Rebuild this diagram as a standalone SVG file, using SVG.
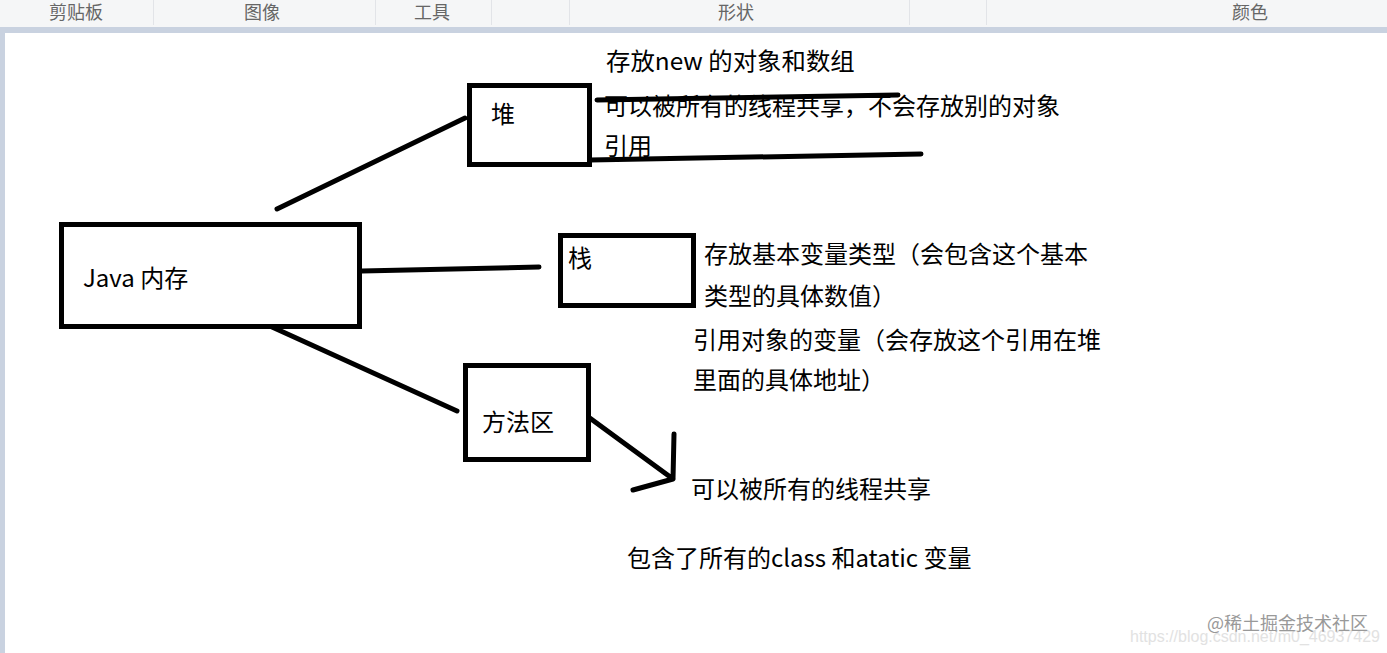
<svg xmlns="http://www.w3.org/2000/svg" width="1387" height="653" viewBox="0 0 1387 653">
<style>
text{font-family:"Noto Sans CJK SC","Liberation Sans",sans-serif;fill:#000;font-size:24px}
.tb{font-size:18px;fill:#666;text-anchor:middle}
.box{fill:#fff;stroke:#000;stroke-width:5}
.ln{fill:none;stroke:#000;stroke-width:5;stroke-linecap:round;stroke-linejoin:round}
.sep{stroke:#e2e4e8;stroke-width:1}
</style>
<rect width="1387" height="653" fill="#fff"/>
<g id="toolbar">
<rect width="1387" height="27" fill="#f5f6f7"/>
<rect y="27" width="1387" height="6" fill="#c9d2e0"/>
<rect y="27" width="5" height="626" fill="#c9d2e0"/>
<path class="sep" d="M153.500 0V25M375.500 0V25M491.500 0V25M569.500 0V25M909.500 0V25M986.500 0V25"/>
<text class="tb" x="76" y="19">剪贴板</text>
<text class="tb" x="262" y="19">图像</text>
<text class="tb" x="432" y="19">工具</text>
<text class="tb" x="736" y="19">形状</text>
<text class="tb" x="1250" y="19">颜色</text>
</g>
<g id="connectors">
<path class="ln" d="M277 209L465 118"/>
<path class="ln" d="M362 271L539 267"/>
<path class="ln" d="M272 327L457 411"/>
<path class="ln" d="M587 416L673 479M674 434L673 479L633 490"/>
<path class="ln" d="M597 100L898 95"/>
<path class="ln" d="M590 160L921 154"/>
</g>
<g id="java"><rect class="box" x="61.500" y="224.500" width="298" height="102"/><text x="83" y="287">Java 内存</text></g>
<g id="heap"><rect class="box" x="469.500" y="85.500" width="120" height="79"/><text x="491" y="123">堆</text></g>
<g id="stack"><rect class="box" x="560.500" y="235.500" width="133" height="70"/><text x="568" y="267">栈</text></g>
<g id="method"><rect class="box" x="465.500" y="365.500" width="123" height="94"/><text x="482" y="431">方法区</text></g>
<g id="labels">
<text x="606" y="70" style="font-size:24.400px">存放new 的对象和数组</text>
<text x="604" y="115">可以被所有的线程共享，不会存放别的对象</text>
<text x="604" y="155">引用</text>
<text x="704" y="263">存放基本变量类型（会包含这个基本</text>
<text x="704" y="305">类型的具体数值）</text>
<text x="693" y="349">引用对象的变量（会存放这个引用在堆</text>
<text x="693" y="389">里面的具体地址）</text>
<text x="691" y="498">可以被所有的线程共享</text>
<text x="627" y="567">包含了所有的class 和atatic 变量</text>
</g>
<g id="watermark">
<text x="1130" y="642" style="font-size:16px;fill:#e2e2e2;font-family:'Liberation Sans',sans-serif">https://blog.csdn.net/m0_46937429</text>
<text x="1207" y="630" style="font-size:18px;fill:#999">@稀土掘金技术社区</text>
</g>
</svg>
